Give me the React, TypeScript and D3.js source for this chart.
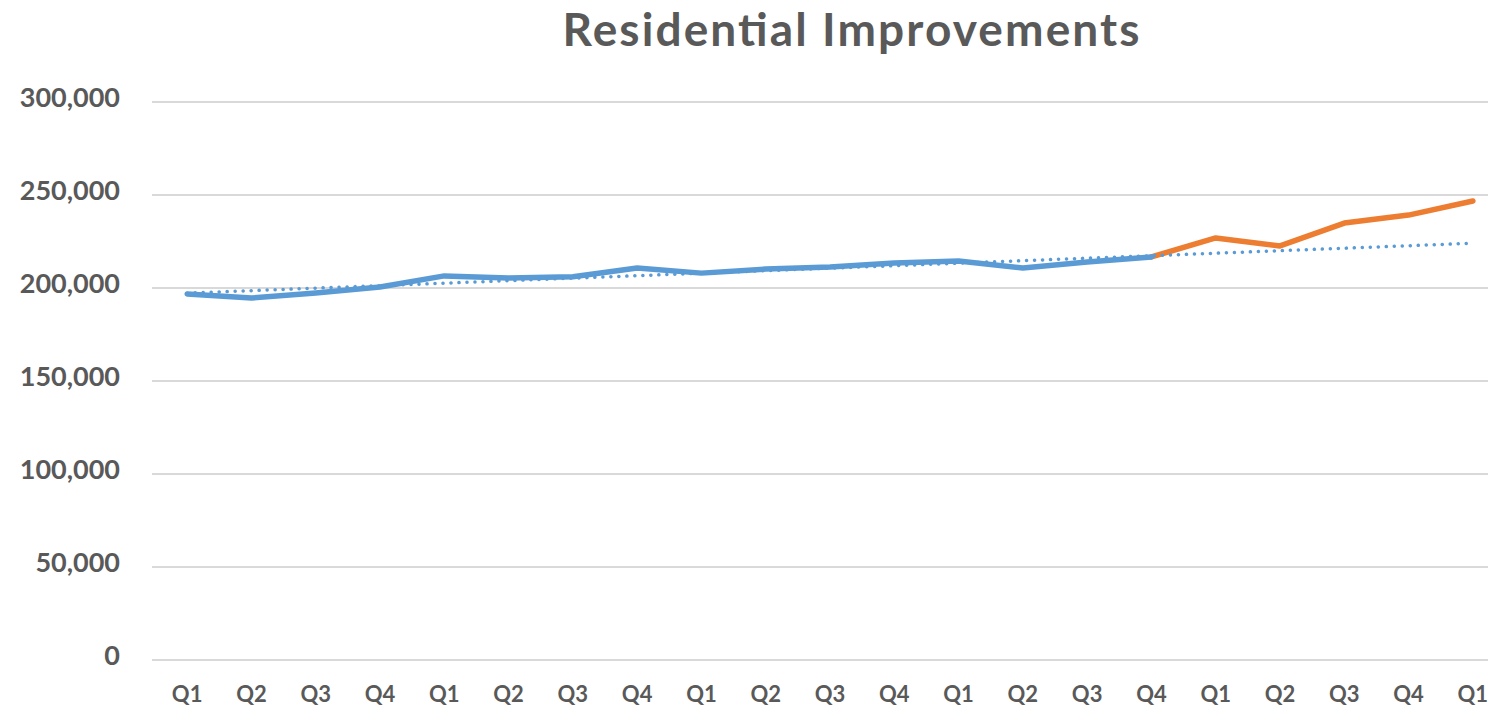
import * as d3 from "d3";
import { useEffect } from "react";

// quarter labels along the x axis (5 years + 1 quarter)
const quarters = [
  "Q1", "Q2", "Q3", "Q4",
  "Q1", "Q2", "Q3", "Q4",
  "Q1", "Q2", "Q3", "Q4",
  "Q1", "Q2", "Q3", "Q4",
  "Q1", "Q2", "Q3", "Q4",
  "Q1",
];

// actual values (blue), index 0..15
const actual = [
  196800, 194600, 197300, 200500,
  206500, 205400, 206000, 210800,
  208000, 210200, 211300, 213400,
  214500, 210800, 214000, 216700,
];

// forecast values (orange), index 15..20
const forecastStart = 15;
const forecast = [216700, 226900, 222600, 234900, 239200, 246800];

const yTicks = [0, 50000, 100000, 150000, 200000, 250000, 300000];

const width = 1488;
const height = 708;
const margin = { top: 102, right: -17, bottom: 48, left: 155 };

export default function App() {
  useEffect(() => {
    document.body.style.margin = "0";
  }, []);

  const x = d3
    .scalePoint<number>()
    .domain(quarters.map((d, i) => i))
    .range([margin.left, width - margin.right])
    .padding(0.5);

  const y = d3
    .scaleLinear()
    .domain([0, 300000])
    .range([height - margin.bottom, margin.top]);

  const line = d3
    .line<number>()
    .x((d, i) => x(i)!)
    .y((d) => y(d));

  const forecastLine = d3
    .line<number>()
    .x((d, i) => x(i + forecastStart)!)
    .y((d) => y(d));

  // linear trendline on the actual series, extended over the forecast periods
  const xs = actual.map((d, i) => i);
  const meanX = d3.mean(xs)!;
  const meanY = d3.mean(actual)!;
  const slope =
    d3.sum(actual, (d, i) => (i - meanX) * (d - meanY)) /
    d3.sum(xs, (i) => (i - meanX) * (i - meanX));
  const intercept = meanY - slope * meanX;
  const trendIdx = quarters.map((d, i) => i);
  const trend = d3
    .line<number>()
    .x((i) => x(i)!)
    .y((i) => y(intercept + slope * i));

  const fmt = d3.format(",");
  const textColor = "#595959";
  const font = "Lato, 'Open Sans', sans-serif";

  return (
    <svg width={width} height={height} style={{ display: "block" }}>
      <rect width={width} height={height} fill="white" />
      <text
        x={851}
        y={46}
        textAnchor="middle"
        fontFamily={font}
        fontWeight="bold"
        fontSize={46}
        textLength={577}
        lengthAdjust="spacing"
        fill={textColor}
      >
        Residential Improvements
      </text>

      {yTicks.map((t) => (
        <g key={t}>
          <line
            x1={152}
            x2={width}
            y1={y(t)}
            y2={y(t)}
            stroke="#d9d9d9"
            strokeWidth={2}
          />
          <text
            x={120}
            y={y(t) - 2}
            textAnchor="end"
            dominantBaseline="middle"
            fontFamily={font}
            fontWeight="bold"
            fontSize={27}
            fill={textColor}
          >
            {fmt(t)}
          </text>
        </g>
      ))}

      {quarters.map((q, i) => (
        <text
          key={i}
          x={x(i)}
          y={696}
          textAnchor="middle"
          dominantBaseline="middle"
          fontFamily={font}
          fontWeight="bold"
          fontSize={22}
          fill={textColor}
        >
          {q}
        </text>
      ))}

      <path
        d={forecastLine(forecast)!}
        fill="none"
        stroke="#ed7d31"
        strokeWidth={5.5}
        strokeLinejoin="round"
        strokeLinecap="round"
      />
      <path
        d={line(actual)!}
        fill="none"
        stroke="#5b9bd5"
        strokeWidth={5.5}
        strokeLinejoin="round"
        strokeLinecap="round"
      />
      <path
        d={trend(trendIdx)!}
        fill="none"
        stroke="#5b9bd5"
        strokeWidth={3.5}
        strokeLinecap="round"
        strokeDasharray="0.1 7.9"
      />
    </svg>
  );
}
